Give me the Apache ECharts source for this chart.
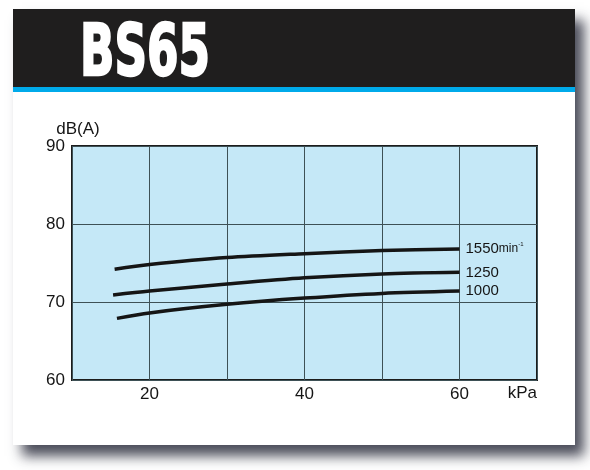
<!DOCTYPE html>
<html>
<head>
<meta charset="utf-8">
<script src="https://cdn.jsdelivr.net/npm/echarts@6/dist/echarts.min.js"></script>
<style>
  html, body { margin: 0; padding: 0; background: #fff; }
  #chart { width: 590px; height: 470px; }
</style>
</head>
<body>
<div id="chart"></div>
<script>
// readings taken off the BS65 noise curve
const kpa1550 = [15.5, 20, 30, 40, 50, 60];
const db1550 = [74.2, 74.8, 75.7, 76.2, 76.6, 76.8];
const kpa1250 = [15.3, 20, 30, 40, 50, 60];
const db1250 = [70.9, 71.4, 72.3, 73.1, 73.6, 73.8];
const kpa1000 = [15.8, 20, 30, 40, 50, 60];
const db1000 = [67.9, 68.6, 69.7, 70.5, 71.1, 71.4];
const speedNames = ['1550', '1250', '1000'];
const xTickLabels = [20, 40, 60];

const chartDom = document.getElementById('chart');
let myChart = echarts.init(chartDom);
let option;

function pairs(xs, ys) {
    let out = [];
    for (let i = 0; i < xs.length; i++) out.push([xs[i], ys[i]]);
    return out;
}

// squeeze the title into the heavy condensed look of the original
const titleFont = 'bold 72px "DejaVu Sans"';
const ctx = document.createElement('canvas').getContext('2d');
ctx.font = titleFont;
const titleScale = 130 / ctx.measureText('BS65').width;

let lineSeries = [
    { name: speedNames[0], data: pairs(kpa1550, db1550) },
    { name: speedNames[1], data: pairs(kpa1250, db1250) },
    { name: speedNames[2], data: pairs(kpa1000, db1000) }
].map(function (s, i) {
    return {
        name: s.name,
        type: 'line',
        smooth: 0.3,
        showSymbol: false,
        silent: true,
        lineStyle: { color: '#151515', width: 3.5 },
        endLabel: {
            show: true,
            distance: 6,
            color: '#151515',
            fontFamily: 'Liberation Sans',
            fontSize: 15,
            formatter: i === 0 ? '{n|1550}{u|min}{s|-1}' : '{n|' + s.name + '}',
            rich: {
                n: { fontSize: 15, fontFamily: 'Liberation Sans', color: '#151515' },
                u: { fontSize: 12, fontFamily: 'Liberation Sans', color: '#151515' },
                s: { fontSize: 6, fontFamily: 'Liberation Sans', color: '#151515', verticalAlign: 'top' }
            }
        },
        data: s.data
    };
});

option = {
    animation: false,
    graphic: [
        {
            type: 'rect', z: -5,
            shape: { x: 13, y: 9, width: 562, height: 436 },
            style: {
                fill: '#fff',
                shadowBlur: 12,
                shadowOffsetX: 9,
                shadowOffsetY: 11,
                shadowColor: 'rgba(55,58,72,0.9)'
            }
        },
        {
            type: 'rect', z: -4,
            shape: { x: 13, y: 9, width: 562, height: 78 },
            style: { fill: '#1f1e1e' }
        },
        {
            type: 'rect', z: -4,
            shape: { x: 13, y: 87, width: 562, height: 5 },
            style: { fill: '#00aaea' }
        },
        {
            type: 'text', z: 10,
            x: 80, y: 92,
            scaleX: titleScale,
            style: {
                text: 'BS65',
                font: titleFont,
                fill: '#fff',
                stroke: '#fff',
                lineWidth: 2.5,
                textAlign: 'left',
                textVerticalAlign: 'bottom'
            }
        }
    ],
    grid: {
        left: 72,
        right: 53,
        top: 146,
        bottom: 90,
        show: true,
        backgroundColor: '#c5e8f7',
        borderColor: '#1c1c1c',
        borderWidth: 2
    },
    xAxis: {
        type: 'value',
        min: 10,
        max: 70,
        interval: 10,
        name: 'kPa',
        nameLocation: 'end',
        nameGap: 0,
        nameTextStyle: {
            align: 'right',
            verticalAlign: 'top',
            padding: [5, 0, 0, 0],
            fontFamily: 'Liberation Sans',
            fontSize: 17,
            color: '#151515'
        },
        axisLine: { show: false },
        axisTick: { show: false },
        axisLabel: {
            margin: 6,
            fontFamily: 'Liberation Sans',
            fontSize: 17,
            color: '#151515',
            formatter: function (v) {
                return xTickLabels.indexOf(v) >= 0 ? String(v) : '';
            }
        },
        splitLine: { lineStyle: { color: '#3e5156', width: 1 } }
    },
    yAxis: {
        type: 'value',
        min: 60,
        max: 90,
        interval: 10,
        name: 'dB(A)',
        nameLocation: 'end',
        nameGap: 7,
        nameTextStyle: {
            align: 'center',
            padding: [0, 0, 0, 12],
            fontFamily: 'Liberation Sans',
            fontSize: 17,
            color: '#151515'
        },
        axisLine: { show: false },
        axisTick: { show: false },
        axisLabel: {
            margin: 7,
            fontFamily: 'Liberation Sans',
            fontSize: 17,
            color: '#151515'
        },
        splitLine: { lineStyle: { color: '#3e5156', width: 1 } }
    },
    series: lineSeries
};

option && myChart.setOption(option);
</script>
</body>
</html>
